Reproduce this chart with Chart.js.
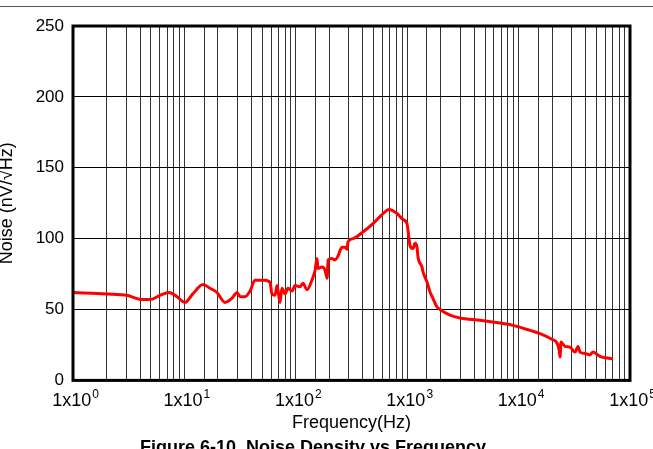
<!DOCTYPE html>
<html>
<head>
<meta charset="utf-8">
<script src="https://cdn.jsdelivr.net/npm/chart.js@4"></script>
<style>
  html, body { margin: 0; padding: 0; background: #fff; overflow: hidden; }
  body { width: 653px; height: 449px; position: relative; }
  #rule { position: absolute; left: 0; top: 6px; width: 653px; height: 1px; background: #555; }
  #wrap { position: absolute; left: -4px; top: 0; width: 660px; height: 474px; }
</style>
</head>
<body>
<div id="rule"></div>
<div id="wrap"><canvas id="noiseChart" width="660" height="474"></canvas></div>
<script>
// Noise density curve
const freqHz = [1, 2.02, 3.05, 4.16, 4.91, 6.04, 7.28, 8.59, 10.1, 11.9, 14.7, 17.0, 19.6, 23.1, 26.8, 29.7, 31.6, 35.0, 38.8, 43.0,
    52.9, 58.7, 61.1, 65.0, 67.8, 72.1, 75.2, 80.0, 85.1, 92.5, 98.4, 109, 116, 126, 140, 149, 155, 158, 172, 183,
    191, 195, 211, 225, 239, 260, 277, 288, 294, 326, 401, 493, 594, 687, 810, 916, 996, 1038, 1060, 1128,
    1175, 1225, 1250, 1358, 1387, 1506, 1603, 1706, 1853, 1969, 2422, 2979, 4506, 6808, 8910, 12660, 15560, 19950, 22130, 23070,
    23550, 24040, 26070, 28920, 32080, 34140, 35580, 39460, 43770, 46550, 53830, 59710, 70340];
const noiseNv = [62, 61, 60, 57, 57, 60, 62, 59, 55, 61, 67.6, 65, 62, 55, 58, 62, 59, 59, 63, 70.6,
    70.6, 69, 61, 60, 67, 55, 65, 61, 65, 63, 67, 66, 68.5, 64, 71, 77.7, 86, 79, 80, 77.7,
    72, 85, 86, 85, 87.6, 94, 94, 92.5, 97.7, 100, 104.7, 110.6, 117, 120.5, 117.7, 113.5, 110.6, 100, 95, 93,
    96.7, 94, 87, 80, 76.5, 69.4, 62.4, 57.7, 51.8, 50, 46, 44, 42.4, 40.5, 38.8, 35.3, 33, 29, 26.4, 22,
    16.5, 27, 24, 23.5, 20, 24, 20, 19, 18, 20, 17, 16, 15.3];
const decades = [0, 1, 2, 3, 4, 5];
const yTicks = [0, 50, 100, 150, 200, 250];

const points = freqHz.map((f, i) => ({ x: f, y: noiseNv[i] }));

// frame round the plot area
const framePlugin = {
    id: 'frame',
    afterDraw(chart) {
        const { ctx, chartArea: a } = chart;
        ctx.save();
        ctx.strokeStyle = '#000';
        ctx.lineWidth = 3;
        ctx.strokeRect(a.left, a.top, a.right - a.left, a.bottom - a.top);
        ctx.restore();
    }
};

// 1x10^n labels with a raised exponent
const decadeLabels = {
    id: 'decadeLabels',
    afterDraw(chart) {
        const { ctx } = chart;
        const xs = chart.scales.x;
        const base = '18px "Liberation Sans", Arial, sans-serif';
        const sup = '12px "Liberation Sans", Arial, sans-serif';
        const y = chart.chartArea.bottom + 26;
        ctx.save();
        ctx.fillStyle = '#000';
        ctx.textBaseline = 'alphabetic';
        ctx.textAlign = 'left';
        decades.forEach(d => {
            const px = xs.getPixelForValue(Math.pow(10, d));
            ctx.font = base;
            const w1 = ctx.measureText('1x10').width;
            ctx.font = sup;
            const w2 = ctx.measureText(String(d)).width;
            const x0 = px - (w1 + w2) / 2 + 2;
            ctx.font = base;
            ctx.fillText('1x10', x0, y);
            ctx.font = sup;
            ctx.fillText(String(d), x0 + w1 + 1, y - 8);
        });
        ctx.restore();
    }
};

new Chart(document.getElementById('noiseChart'), {
    type: 'line',
    data: {
        datasets: [{
            data: points,
            borderColor: '#ff0000',
            borderWidth: 3,
            pointRadius: 0,
            cubicInterpolationMode: 'monotone',
            fill: false
        }]
    },
    options: {
        responsive: false,
        animation: false,
        layout: { padding: { top: 26, right: 26, left: 0, bottom: 0 } },
        plugins: {
            legend: { display: false },
            tooltip: { enabled: false },
            title: {
                display: true,
                position: 'bottom',
                text: 'Figure 6-10. Noise Density vs Frequency',
                color: '#000',
                font: { family: '"Liberation Sans", Arial, sans-serif', size: 18, weight: 'bold' },
                padding: { top: 4, bottom: 15 }
            }
        },
        scales: {
            x: {
                type: 'logarithmic',
                min: 1,
                max: 100000,
                ticks: { display: false },
                grid: { color: '#333', lineWidth: 1, drawTicks: false },
                border: { display: false },
                title: {
                    display: true,
                    text: 'Frequency(Hz)',
                    color: '#000',
                    font: { family: '"Liberation Sans", Arial, sans-serif', size: 18 },
                    padding: { top: 0, bottom: 0 }
                },
                afterFit(scale) { scale.height = 53; }
            },
            y: {
                min: 0,
                max: 250,
                afterBuildTicks(scale) { scale.ticks = yTicks.map(v => ({ value: v })); },
                ticks: {
                    color: '#000',
                    padding: 9,
                    font: { family: '"Liberation Sans", Arial, sans-serif', size: 17 }
                },
                grid: { color: '#000', lineWidth: 1, drawTicks: false },
                border: { display: false },
                title: {
                    display: true,
                    text: 'Noise (nV/\u221AHz)',
                    color: '#000',
                    font: { family: '"Liberation Sans", Arial, sans-serif', size: 18 },
                    padding: { top: 0, bottom: 0 }
                },
                afterFit(scale) { scale.width = 77; }
            }
        }
    },
    plugins: [framePlugin, decadeLabels]
});
</script>
</body>
</html>
